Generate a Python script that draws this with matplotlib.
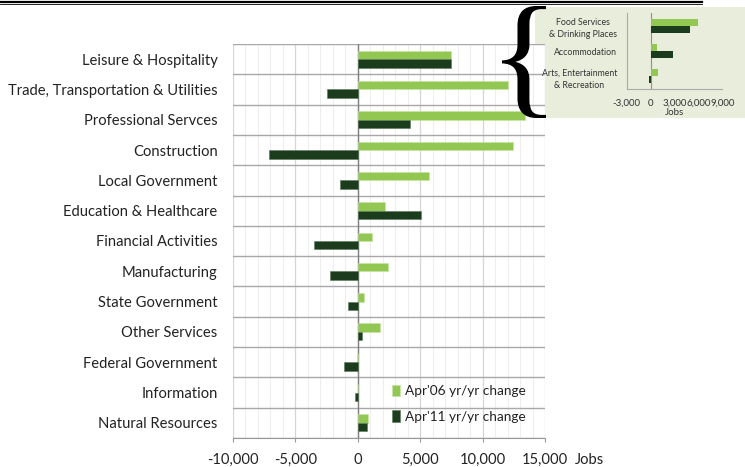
import matplotlib
matplotlib.use("Agg")
import matplotlib.pyplot as plt
import matplotlib.lines as mlines
import matplotlib.patches as mpatches
from matplotlib.textpath import TextPath
from matplotlib.font_manager import FontProperties
from matplotlib.transforms import Affine2D
import numpy as np

plt.rcParams['font.family'] = ['Lato', 'DejaVu Sans']

# main chart data (jobs, yr/yr change)
sectors = ['Leisure & Hospitality', 'Trade, Transportation & Utilities',
           'Professional Servces', 'Construction', 'Local Government',
           'Education & Healthcare', 'Financial Activities', 'Manufacturing',
           'State Government', 'Other Services', 'Federal Government',
           'Information', 'Natural Resources']
apr06 = [7500, 12000, 13400, 12400, 5700, 2200, 1100, 2400, 500, 1800, -100, 50, 800]
apr11 = [7500, -2500, 4200, -7100, -1400, 5100, -3500, -2200, -800, 300, -1100, -200, 700]

# inset data
sub_labels = ['Food Services\n& Drinking Places', 'Accommodation',
              'Arts, Entertainment\n& Recreation']
sub_apr06 = [5900, 800, 900]
sub_apr11 = [4900, 2800, -200]

x_ticks = [-10000, -5000, 0, 5000, 10000, 15000]
sub_ticks = [-3000, 0, 3000, 6000, 9000]

light = '#92C851'
dark = '#1B3D1D'
txt = '#222222'

W, H = 745, 467
fig = plt.figure(figsize=(W / 100, H / 100), dpi=100)


def fbox(x0, y0, x1, y1):
    return [x0 / W, 1 - y1 / H, (x1 - x0) / W, (y1 - y0) / H]


# ---- main chart
ax = fig.add_axes(fbox(233, 44, 545, 438))
n = len(sectors)
pos = np.arange(n)
bh = 0.28
ax.barh(pos - bh / 2, apr06, height=bh, color=light, edgecolor='#c8e4a8',
        linewidth=0.4, label="Apr'06 yr/yr change", zorder=3)
ax.barh(pos + bh / 2, apr11, height=bh, color=dark, edgecolor='#5a7a5a',
        linewidth=0.4, label="Apr'11 yr/yr change", zorder=3)
ax.set_ylim(n - 0.5, -0.5)
ax.set_xlim(x_ticks[0], x_ticks[-1])
ax.set_yticks(pos)
ax.set_yticklabels(sectors, fontsize=10.6, color=txt)
ax.set_yticks(np.arange(n + 1) - 0.5, minor=True)
ax.tick_params(axis='y', which='both', length=0, pad=11)
ax.set_xticks(x_ticks)
ax.set_xticklabels([f'{v:,}' for v in x_ticks], fontsize=10.6, color=txt)
ax.set_xticks(np.arange(x_ticks[0], x_ticks[-1] + 1, 1000), minor=True)
ax.tick_params(axis='x', which='major', length=3, color='#999999', pad=8)
ax.tick_params(axis='x', which='minor', length=0)
ax.grid(axis='x', which='minor', color='#eeeeee', lw=0.8, zorder=0)
ax.grid(axis='x', which='major', color='#d6d6d6', lw=0.9, zorder=0)
ax.grid(axis='y', which='minor', color='#a8a8a8', lw=1.0, zorder=1)
ax.axvline(0, color='#808080', lw=1.0, zorder=2)
for s in ['top', 'right', 'left']:
    ax.spines[s].set_visible(False)
ax.spines['bottom'].set_color('#999999')
ax.text(1.097, -0.057, 'Jobs', transform=ax.transAxes, fontsize=10.6,
        color=txt, ha='left', va='center')
leg = ax.legend(loc='lower right', bbox_to_anchor=(0.978, 0.008),
                frameon=False, fontsize=9.8, handlelength=0.6,
                handleheight=0.9, handletextpad=0.35, labelspacing=0.95,
                labelcolor=txt)

# ---- top double rule
fig.add_artist(mlines.Line2D([0, 702 / W], [1 - 1.7 / H] * 2, color='black',
                             lw=1.6))
fig.add_artist(mlines.Line2D([0, 702 / W], [1 - 4.2 / H] * 2, color='black',
                             lw=0.6))

# ---- inset background and brace
fig.add_artist(mpatches.Rectangle((535 / W, 1 - 118 / H), 210 / W, 111 / H,
                                  transform=fig.transFigure,
                                  facecolor='#e9eddc', edgecolor='none',
                                  zorder=0))
brace = TextPath((0, 0), '{', size=100,
                 prop=FontProperties(family='Liberation Serif'))
ext = brace.get_extents()
bx0, by0, bx1, by1 = 502, 6, 546, 118
to_fig = (Affine2D().translate(-ext.x0, -ext.y0)
          .scale((bx1 - bx0) / ext.width, (by1 - by0) / ext.height)
          .translate(bx0, H - by1).scale(1 / W, 1 / H))
fig.add_artist(mpatches.PathPatch(to_fig.transform_path(brace),
                                  transform=fig.transFigure,
                                  facecolor='black', edgecolor='none',
                                  zorder=5))

# ---- inset chart
ins = fig.add_axes(fbox(626.7, 13.3, 722.3, 89))
ins.set_facecolor('none')
m = len(sub_labels)
spos = np.arange(m)
ins.barh(spos - bh / 2, sub_apr06, height=bh, color=light, zorder=3)
ins.barh(spos + bh / 2, sub_apr11, height=bh, color=dark, zorder=3)
ins.set_ylim(m - 0.5, -0.5)
ins.set_xlim(sub_ticks[0], sub_ticks[-1])
ins.set_yticks(spos)
ins.set_yticklabels(sub_labels, fontsize=6.3, color='#333333',
                    multialignment='center', linespacing=1.5)
ins.tick_params(axis='y', length=0, pad=7)
ins.set_xticks(sub_ticks)
ins.set_xticklabels([f'{v:,}' for v in sub_ticks], fontsize=7, color='#333333')
ins.tick_params(axis='x', length=0, pad=7)
ins.axvline(0, color='#909090', lw=0.8, zorder=2)
for s in ['top', 'right']:
    ins.spines[s].set_visible(False)
ins.spines['left'].set_color('#aaaaaa')
ins.spines['bottom'].set_color('#aaaaaa')
ins.set_xlabel('Jobs', fontsize=7, color='#333333', labelpad=0)

fig.savefig('out.png', dpi=100)
